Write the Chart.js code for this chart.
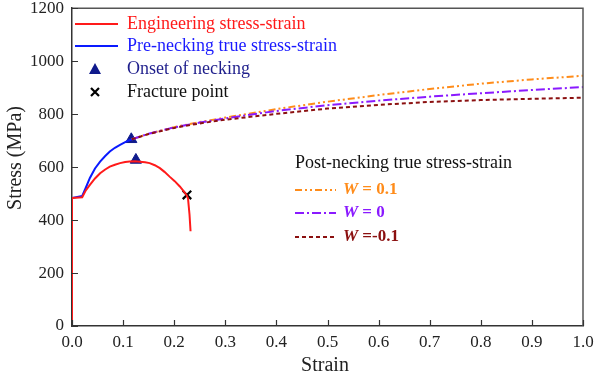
<!DOCTYPE html>
<html>
<head>
<meta charset="utf-8">
<script src="https://cdn.jsdelivr.net/npm/chart.js@4"></script>
<style>
  html, body { margin: 0; padding: 0; background: #fff; }
</style>
</head>
<body>
<canvas id="chart" width="595" height="380"></canvas>
<script>
// valores
const engStrain = [0, 0, 0.02, 0.027, 0.035, 0.045, 0.055, 0.065, 0.074, 0.084, 0.094, 0.104, 0.113, 0.123, 0.133, 0.143, 0.152, 0.162, 0.172, 0.181, 0.191, 0.201, 0.211, 0.218, 0.224, 0.227, 0.230, 0.232];
const engStress = [0, 483, 486, 512, 533, 557, 577, 591, 602, 609, 615, 619, 621, 622, 620, 618, 615, 607, 596, 582, 564, 547, 527, 510, 495, 482, 420, 358];

const preStrain = [0, 0, 0.02, 0.027, 0.035, 0.045, 0.055, 0.065, 0.074, 0.084, 0.094, 0.105, 0.117];
const preStress = [0, 483, 491, 522, 559, 595, 621, 642, 659, 673, 684, 695, 705];

const postStrain = [0.117, 0.15, 0.2, 0.25, 0.3, 0.4, 0.5, 0.6, 0.7, 0.8, 0.9, 1.0];
const stressWpos = [705, 726, 751, 770, 787, 819, 847, 872, 895, 915, 931, 945];
const stressWzero = [705, 726, 750, 768, 784, 812, 834, 851, 866, 879, 891, 902];
const stressWneg = [705, 725, 748, 765, 779, 801, 821, 835, 846, 853, 858, 862];

const neckStrain = [0.116, 0.125];
const neckStress = [705, 627];
const fractureStrain = [0.225];
const fractureStress = [495];

const xTicks = [0, 0.1, 0.2, 0.3, 0.4, 0.5, 0.6, 0.7, 0.8, 0.9, 1.0];
const yTicks = [0, 200, 400, 600, 800, 1000, 1200];

const toPts = (xs, ys) => xs.map((x, i) => ({ x: x, y: ys[i] }));
const serif = '"Liberation Serif", "Times New Roman", serif';

// legenda, títulos, ticks internos e moldura
const extrasPlugin = {
    id: 'extras',
    afterDraw(chart) {
        const ctx = chart.ctx;
        const area = chart.chartArea;
        const xs = chart.scales.x, ys = chart.scales.y;
        ctx.save();

        // moldura superior/direita
        ctx.strokeStyle = '#555';
        ctx.lineWidth = 1.5;
        ctx.beginPath();
        ctx.moveTo(area.left, area.top);
        ctx.lineTo(area.right, area.top);
        ctx.lineTo(area.right, area.bottom);
        ctx.stroke();

        // ticks para dentro
        ctx.strokeStyle = '#333';
        ctx.lineWidth = 1.2;
        ctx.beginPath();
        xTicks.forEach(v => {
            const px = Math.round(xs.getPixelForValue(v)) + 0.5;
            ctx.moveTo(px, area.bottom);
            ctx.lineTo(px, area.bottom - 6);
        });
        yTicks.forEach(v => {
            const py = Math.round(ys.getPixelForValue(v)) + 0.5;
            ctx.moveTo(area.left, py);
            ctx.lineTo(area.left + 6, py);
        });
        ctx.stroke();

        // títulos dos eixos
        ctx.fillStyle = '#222';
        ctx.font = '20px ' + serif;
        ctx.textAlign = 'center';
        ctx.textBaseline = 'middle';
        ctx.fillText('Strain', 325, 366);
        ctx.save();
        ctx.translate(16, 158);
        ctx.rotate(-Math.PI / 2);
        ctx.fillText('Stress (MPa)', 0, 0);
        ctx.restore();

        ctx.textAlign = 'left';

        // legenda 1
        const lx0 = 75, lx1 = 118, tx = 127;
        ctx.lineWidth = 2;
        ctx.strokeStyle = '#ff1a1a';
        ctx.beginPath(); ctx.moveTo(lx0, 24); ctx.lineTo(lx1, 24); ctx.stroke();
        ctx.strokeStyle = '#0a1aff';
        ctx.beginPath(); ctx.moveTo(lx0, 46); ctx.lineTo(lx1, 46); ctx.stroke();

        ctx.fillStyle = '#0f1a8c';
        ctx.beginPath();
        ctx.moveTo(95, 63); ctx.lineTo(101, 74); ctx.lineTo(89, 74); ctx.closePath();
        ctx.fill();

        ctx.strokeStyle = '#000';
        ctx.lineWidth = 2.2;
        ctx.beginPath();
        ctx.moveTo(91, 88); ctx.lineTo(99, 96);
        ctx.moveTo(99, 88); ctx.lineTo(91, 96);
        ctx.stroke();

        ctx.font = '18px ' + serif;
        ctx.fillStyle = '#ff1a1a';
        ctx.fillText('Engineering stress-strain', tx, 24);
        ctx.fillStyle = '#1a1aff';
        ctx.fillText('Pre-necking true stress-strain', tx, 46);
        ctx.fillStyle = '#1f1f8c';
        ctx.fillText('Onset of necking', tx, 69);
        ctx.fillStyle = '#111';
        ctx.fillText('Fracture point', tx, 92);

        // legenda 2
        ctx.font = '18px ' + serif;
        ctx.fillStyle = '#111';
        ctx.fillText('Post-necking true stress-strain', 295, 163);

        const entries = [
            { y: 190, color: '#ff8c1a', dash: [7, 3, 2, 3, 2, 3], label: ' = 0.1' },
            { y: 213, color: '#8a1aff', dash: [9, 3, 2, 3], label: ' = 0' },
            { y: 237, color: '#8b1010', dash: [4, 3], label: ' =-0.1' }
        ];
        entries.forEach(e => {
            ctx.strokeStyle = e.color;
            ctx.lineWidth = 2;
            ctx.setLineDash(e.dash);
            ctx.beginPath(); ctx.moveTo(295, e.y); ctx.lineTo(336, e.y); ctx.stroke();
            ctx.setLineDash([]);
            ctx.fillStyle = e.color;
            ctx.font = 'italic bold 17px ' + serif;
            ctx.fillText('W', 343, e.y);
            const w = ctx.measureText('W').width;
            ctx.font = 'bold 17px ' + serif;
            ctx.fillText(e.label, 343 + w, e.y);
        });

        ctx.restore();
    }
};

const ctx = document.getElementById('chart').getContext('2d');
new Chart(ctx, {
    type: 'scatter',
    data: {
        datasets: [
            {
                label: 'W = -0.1',
                data: toPts(postStrain, stressWneg),
                showLine: true, pointRadius: 0,
                borderColor: '#8b1010', borderWidth: 2, borderDash: [4, 3]
            },
            {
                label: 'W = 0',
                data: toPts(postStrain, stressWzero),
                showLine: true, pointRadius: 0,
                borderColor: '#8a1aff', borderWidth: 2, borderDash: [9, 3, 2, 3]
            },
            {
                label: 'W = 0.1',
                data: toPts(postStrain, stressWpos),
                showLine: true, pointRadius: 0,
                borderColor: '#ff8c1a', borderWidth: 2, borderDash: [7, 3, 2, 3, 2, 3]
            },
            {
                label: 'Engineering stress-strain',
                data: toPts(engStrain, engStress),
                showLine: true, pointRadius: 0,
                borderColor: '#ff1a1a', borderWidth: 2
            },
            {
                label: 'Pre-necking true stress-strain',
                data: toPts(preStrain, preStress),
                showLine: true, pointRadius: 0,
                borderColor: '#0a1aff', borderWidth: 2
            },
            {
                label: 'Onset of necking',
                data: toPts(neckStrain, neckStress),
                showLine: false, pointStyle: 'triangle', pointRadius: 6.5,
                backgroundColor: '#0f1a8c', borderColor: '#0f1a8c', borderWidth: 1
            },
            {
                label: 'Fracture point',
                data: toPts(fractureStrain, fractureStress),
                showLine: false, pointStyle: 'crossRot', pointRadius: 6,
                borderColor: '#000', borderWidth: 2.2
            }
        ]
    },
    options: {
        responsive: false,
        animation: false,
        events: [],
        layout: { padding: 0 },
        plugins: { legend: { display: false }, tooltip: { enabled: false } },
        scales: {
            x: {
                type: 'linear', min: 0, max: 1,
                afterFit: s => {
                    s.height = 54;
                    s.paddingLeft = 0;
                    s.paddingRight = 12;
                },
                grid: { display: false, drawTicks: false },
                border: { display: true, color: '#333', width: 1.5 },
                afterBuildTicks: s => { s.ticks = xTicks.map(v => ({ value: v })); },
                ticks: {
                    padding: 6, color: '#222', maxRotation: 0, autoSkip: false,
                    font: { family: serif, size: 17 },
                    callback: v => v.toFixed(1)
                }
            },
            y: {
                type: 'linear', min: 0, max: 1200,
                afterFit: s => {
                    s.width = 72;
                    s.paddingTop = 8;
                    s.paddingBottom = 0;
                },
                grid: { display: false, drawTicks: false },
                border: { display: true, color: '#333', width: 1.5 },
                afterBuildTicks: s => { s.ticks = yTicks.map(v => ({ value: v })); },
                ticks: {
                    padding: 8, color: '#222', autoSkip: false,
                    font: { family: serif, size: 17 },
                    callback: v => String(v)
                }
            }
        }
    },
    plugins: [extrasPlugin]
});
</script>
</body>
</html>
